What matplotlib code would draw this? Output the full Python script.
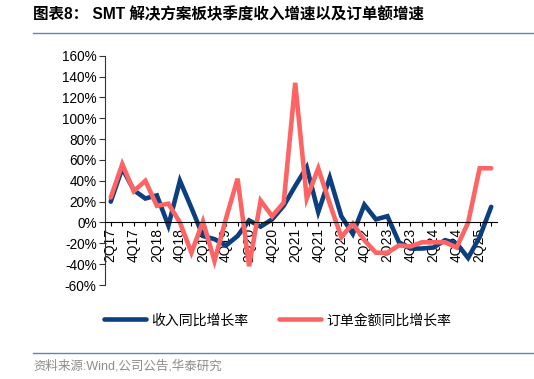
import matplotlib.pyplot as plt
from matplotlib.lines import Line2D
import numpy as np

plt.rcParams['font.family'] = ['Liberation Sans', 'Noto Sans CJK SC']

quarters = ['2Q17', '3Q17', '4Q17', '1Q18', '2Q18', '3Q18', '4Q18', '1Q19',
            '2Q19', '3Q19', '4Q19', '1Q20', '2Q20', '3Q20', '4Q20', '1Q21',
            '2Q21', '3Q21', '4Q21', '1Q22', '2Q22', '3Q22', '4Q22', '1Q23',
            '2Q23', '3Q23', '4Q23', '1Q24', '2Q24', '3Q24', '4Q24', '1Q25',
            '2Q25', '3Q25']

# 收入同比增长率 (%)
revenue_yoy = [20, 52, 31, 23, 26, -3, 40, 14,
               -13, -16, -22, -13, 2, -4, 3, 16,
               35, 53, 10, 43, 6, -11, 17, 3,
               6, -19, -25, -25, -24, -17, -20, -34,
               -14, 15]

# 订单金额同比增长率 (%)
orders_yoy = [24, 56, 30, 40, 16, 18, 0, -29,
              1, -37, 4, 42, -42, 21, 6, 19,
              134, 23, 52, 18, -14, -1, -17, -29,
              -29, -22, -23, -19, -19, -19, -24, 0,
              52, 52]

navy = '#0b3f7f'
salmon = '#fe6464'
rule = '#5a86bf'

fig = plt.figure(figsize=(5.34, 3.79), dpi=100)
ax = fig.add_axes([0.1966, 0.248, 0.734, 0.605])

x = np.arange(len(quarters))
ax.plot(x, revenue_yoy, color=navy, lw=3.3, solid_capstyle='round',
        solid_joinstyle='miter', label='收入同比增长率')
ax.plot(x, orders_yoy, color=salmon, lw=3.3, solid_capstyle='round',
        solid_joinstyle='miter', label='订单金额同比增长率')

ax.set_xlim(-0.5, len(quarters) - 0.5)
ax.set_ylim(-60, 160)
ax.set_yticks(np.arange(-60, 161, 20))
ax.set_yticklabels([f'{v}%' for v in range(-60, 161, 20)], fontsize=9.8)

ax.set_xticks(x)
ax.set_xticklabels([q if i % 2 == 0 else '' for i, q in enumerate(quarters)],
                   fontsize=9.8)

for s in ['top', 'right']:
    ax.spines[s].set_visible(False)
ax.spines['bottom'].set_position(('data', 0))
ax.spines['left'].set_color('#333333')
ax.spines['bottom'].set_color('black')
ax.tick_params(axis='y', direction='out', length=4, pad=2, color='#333333')
ax.tick_params(axis='x', direction='out', length=3, pad=1, labelrotation=90)
for lbl in ax.get_xticklabels():
    lbl.set_ha('center')
    lbl.set_va('top')

ax.legend(loc='center', bbox_to_anchor=(0.52, 0.155), bbox_transform=fig.transFigure,
          ncol=2, frameon=False, handlelength=3.0, columnspacing=2.2,
          handletextpad=0.4, prop={'family': ['Noto Sans CJK SC'], 'size': 10})

fig.text(0.062, 0.962, '图表8： SMT 解决方案板块季度收入增速以及订单额增速',
         fontsize=11.2, fontweight='bold', va='center', ha='left')
fig.add_artist(Line2D([0.062, 1.0], [0.913, 0.913], transform=fig.transFigure,
                      color=rule, lw=1))
fig.add_artist(Line2D([0.062, 1.0], [0.069, 0.069], transform=fig.transFigure,
                      color=rule, lw=1))
fig.text(0.062, 0.033, '资料来源:Wind,公司公告,华泰研究', fontsize=9,
         color='#8c8c8c', va='center', ha='left')

fig.savefig('out.png', dpi=100)
